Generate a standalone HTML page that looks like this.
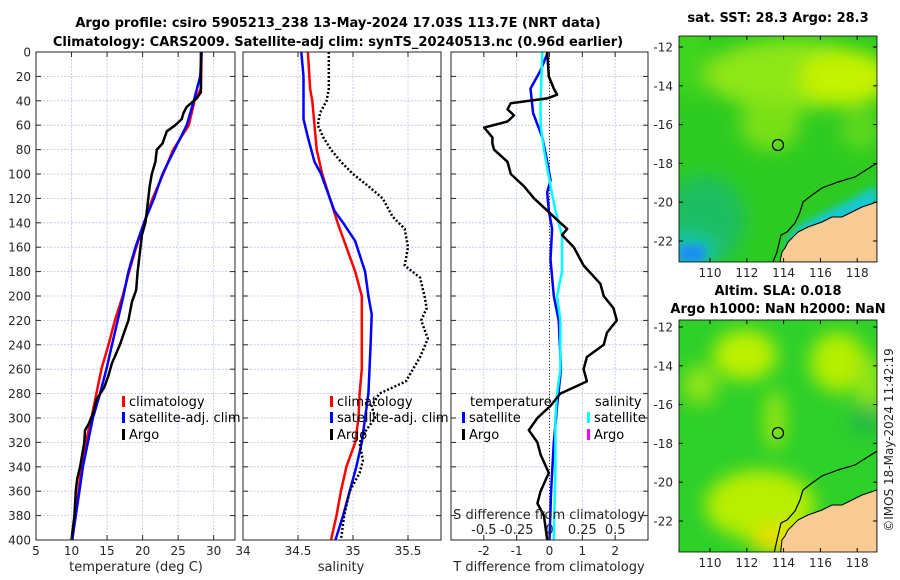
<!DOCTYPE html>
<html><head><meta charset="utf-8">
<style>
body{margin:0;background:#fff;}
svg{display:block;font-family:"DejaVu Sans","Liberation Sans",sans-serif;}
.t{font-size:13px;font-weight:bold;fill:#000;}
.tk{font-size:12px;fill:#262626;}
.lab{font-size:13px;fill:#262626;}
.lg{font-size:13px;fill:#000;}
</style></head>
<body>
<svg id="fig" width="900" height="580" viewBox="0 0 900 580">
<defs>
<filter id="bl" x="-50%" y="-50%" width="200%" height="200%"><feGaussianBlur stdDeviation="9"/></filter>
<filter id="bl2" x="-50%" y="-50%" width="200%" height="200%"><feGaussianBlur stdDeviation="4"/></filter>
<clipPath id="c1"><rect x="679" y="36" width="198" height="226"/></clipPath>
<clipPath id="c2"><rect x="679" y="320" width="198" height="232"/></clipPath>
</defs>
<text class="t" x="338" y="27" text-anchor="middle">Argo profile: csiro 5905213_238 13-May-2024 17.03S 113.7E (NRT data)</text>
<text class="t" x="338" y="46" text-anchor="middle">Climatology: CARS2009. Satellite-adj clim: synTS_20240513.nc (0.96d earlier)</text>

<g id="grids"></g>
<g id="marks"></g>
<g id="axes"></g>

<!-- Top map -->
<g clip-path="url(#c1)">
<rect x="679" y="36" width="198" height="226" fill="#2dcb22"/>
<g filter="url(#bl)">
<ellipse cx="690" cy="60" rx="20" ry="40" fill="#3fd41a"/>
<ellipse cx="790" cy="75" rx="85" ry="35" fill="#8ee614"/>
<ellipse cx="845" cy="78" rx="45" ry="28" fill="#c4f200"/>
<ellipse cx="770" cy="125" rx="30" ry="25" fill="#7ae015"/>
<ellipse cx="860" cy="130" rx="20" ry="20" fill="#5fd81a"/>
<ellipse cx="705" cy="220" rx="40" ry="45" fill="#1bbd62"/>
<ellipse cx="690" cy="252" rx="25" ry="18" fill="#12c6b0"/>
</g>
<rect x="679" y="245" width="26" height="17" fill="#1a8ff0" filter="url(#bl2)"/>
<path d="M877,185 L850,200 L825,212 L800,225 L790,235 L785,250 L790,262 L877,262 Z" fill="#18c8d0" filter="url(#bl2)"/>
<g id="coast1">
<path d="M877,202 L868,205 L862,207 L852,212 L842,217 L832,217 L822,222 L808,227 L798,232 L788,242 L785,248 L782,252 L780,262 L877,262 Z" fill="#f9cb94" stroke="#000" stroke-width="1"/>
<path d="M877,163 L855,177 L838,182 L822,188 L812,195 L803,202 L800,212 L795,223 L787,232 L781,235 L777,252 L773,262" fill="none" stroke="#000" stroke-width="1.2"/>
</g>
<circle cx="778" cy="145" r="5.5" fill="none" stroke="#000" stroke-width="1.2"/>
</g>
<rect x="679" y="36" width="198" height="226" fill="none" stroke="#000" stroke-width="0.8"/>
<text class="t" x="778" y="22" text-anchor="middle">sat. SST: 28.3 Argo: 28.3</text>

<!-- Bottom map -->
<g clip-path="url(#c2)">
<rect x="679" y="320" width="198" height="232" fill="#2ed02a"/>
<g filter="url(#bl)">
<ellipse cx="745" cy="355" rx="32" ry="25" fill="#bdf000"/>
<ellipse cx="700" cy="385" rx="18" ry="20" fill="#8ee416"/>
<ellipse cx="838" cy="362" rx="28" ry="30" fill="#b6ee06"/>
<ellipse cx="775" cy="420" rx="10" ry="30" fill="#a0e80c"/>
<ellipse cx="870" cy="385" rx="15" ry="30" fill="#8ee414"/>
<ellipse cx="760" cy="505" rx="55" ry="35" fill="#b8ee06"/>
<ellipse cx="780" cy="540" rx="30" ry="15" fill="#e8e000"/>
<ellipse cx="865" cy="420" rx="15" ry="15" fill="#22b84a"/>
</g>
<g transform="translate(0,288)">
<path d="M877,202 L868,205 L862,207 L852,212 L842,217 L832,217 L822,222 L808,227 L798,232 L788,242 L785,248 L782,252 L780,270 L877,270 Z" fill="#f9cb94" stroke="#000" stroke-width="1"/>
<path d="M877,163 L855,177 L838,182 L822,188 L812,195 L803,202 L800,212 L795,223 L787,232 L781,235 L777,252 L773,270" fill="none" stroke="#000" stroke-width="1.2"/>
</g>
<circle cx="778" cy="433" r="5.5" fill="none" stroke="#000" stroke-width="1.2"/>
</g>
<rect x="679" y="320" width="198" height="232" fill="none" stroke="#000" stroke-width="0.8"/>
<text class="t" x="778" y="295" text-anchor="middle">Altim. SLA: 0.018</text>
<text class="t" x="778" y="313" text-anchor="middle">Argo h1000: NaN h2000: NaN</text>
<g id="mapaxes"></g>
<text class="tk" transform="translate(893,440) rotate(-90)" text-anchor="middle">©IMOS 18-May-2024 11:42:19</text>
</svg>
<script>
// ---- data ----
const depthTicks=[0,20,40,60,80,100,120,140,160,180,200,220,240,260,280,300,320,340,360,380,400];
const tempTicks=[5,10,15,20,25,30];
const salTicks=[34,34.5,35,35.5];
const salTickLabels=["34","34.5","35","35.5"];
const tdiffTicks=[-2,-1,0,1,2];
const sdiffTicks=[-0.5,-0.25,0,0.25,0.5];
const sdiffLabels=["-0.5","-0.25","0","0.25","0.5"];
const lonTicks=[110,112,114,116,118];
const latTicks=[-12,-14,-16,-18,-20,-22];

const argoDepth=[0,33,38,45,50,55,60,65,75,80,90,100,110,130,140,150,160,180,195,205,220,230,240,255,265,275,285,295,305,310,320,340,350,360,380,400];
const argoTemp=[28.2,28.2,27.6,26.2,25.75,25.5,24.6,23.4,22.8,22,21.8,21.3,21,20.6,20.4,19.9,19.7,19.3,19.1,18.5,18,17.4,16.8,15.7,15.2,14.6,13.5,13.1,12.4,11.9,11.8,11.2,10.8,10.6,10.4,10];
const climDepth=[0,30,40,60,80,100,120,140,160,180,200,220,240,260,280,300,320,340,360,380,400];
const climTemp=[28.3,28.2,27.3,26.5,24.3,22.9,21.4,20.2,19.1,18.1,17.2,16.1,15.2,14.2,13.5,12.8,12,11.4,11,10.5,10];
const satDepth=[0,20,40,60,80,100,120,140,160,180,200,220,240,260,280,300,320,340,360,380,400];
const satTemp=[28.3,28.1,27.2,26.2,24.5,22.8,21.6,20.2,19.0,18.0,17.3,16.5,15.7,14.9,14.0,13.0,12.3,11.6,11.1,10.6,10.1];

const climSalDepth=[0,30,40,50,80,100,120,140,160,180,200,220,260,280,300,320,340,360,380,400];
const climSal=[34.59,34.61,34.63,34.64,34.67,34.72,34.79,34.86,34.94,35.02,35.08,35.08,35.08,35.06,35.05,35.02,34.94,34.89,34.85,34.80];
const satSalDepth=[0,20,40,55,70,80,90,100,120,130,140,155,180,200,215,240,260,280,300,320,340,360,380,400];
const satSal=[34.53,34.55,34.55,34.55,34.59,34.62,34.65,34.71,34.79,34.83,34.91,35.02,35.11,35.14,35.17,35.16,35.15,35.14,35.11,35.08,35.03,34.97,34.91,34.84];
const argoSalDepth=[0,30,40,50,60,70,80,90,100,110,120,135,145,160,175,185,200,210,220,235,250,270,280,290,300,310,320,335,345,360,380,400];
const argoSal=[34.78,34.78,34.76,34.70,34.68,34.73,34.80,34.89,35.0,35.14,35.27,35.36,35.47,35.5,35.47,35.61,35.65,35.67,35.62,35.68,35.61,35.48,35.24,35.17,35.2,35.12,35.06,35.09,35.06,34.97,34.92,34.89];

const argoTdDepth=[0,20,30,35,38,42,47,52,57,62,70,75,80,90,100,110,120,130,140,145,150,160,175,190,200,210,220,230,240,250,260,270,280,290,300,310,320,330,345,360,370,380,400];
const argoTd=[-0.07,-0.02,0.13,0.23,-0.07,-1.18,-1.28,-1.08,-1.28,-1.99,-1.74,-1.74,-1.69,-1.28,-1.18,-0.78,-0.47,-0.07,0.33,0.54,0.38,0.74,1.04,1.55,1.65,1.95,2.05,1.75,1.65,1.14,1.04,1.14,0.33,0.03,-0.37,-0.63,-0.37,-0.27,-0.02,-0.27,-0.37,-0.17,-0.07];
const satTdDepth=[0,15,30,50,70,90,105,115,130,145,170,200,220,260,290,320,360,400];
const satTd=[-0.05,-0.27,-0.58,-0.5,-0.22,-0.07,0.03,-0.07,-0.02,0.08,0.03,0.13,0.28,0.35,0.23,0.13,0.05,0];
const satSdDepth=[0,40,60,80,110,130,150,180,200,220,260,280,300,340,400];
const satSd=[-0.055,-0.068,-0.068,-0.043,0.008,0.045,0.095,0.095,0.058,0.083,0.083,0.058,0.045,0.045,0.033];

// ---- axes ----
const NS='http://www.w3.org/2000/svg';
const Y0=52,Y1=540;
const yD=d=>Y0+(d/400)*(Y1-Y0);
const P1={x0:36,x1:235,lo:5,hi:33};
const P2={x0:243,x1:441,lo:34,hi:35.8};
const P3={x0:451,x1:648,lo:-3,hi:3};
const sx=(p,v)=>p.x0+(v-p.lo)/(p.hi-p.lo)*(p.x1-p.x0);
const sxS=v=>sx(P3,v*4);
function mk(tag,attrs,parent,txt){const e=document.createElementNS(NS,tag);for(const k in attrs)e.setAttribute(k,attrs[k]);if(txt!==undefined)e.textContent=txt;document.getElementById(parent).appendChild(e);return e;}
const grids='grids',axes='axes',marks='marks';
const gridStyle={stroke:'#b8c4e0','stroke-width':0.8,'stroke-dasharray':'2,1.5'};

[P1,P2,P3].forEach((p,i)=>{
  depthTicks.forEach(d=>{
    if(d>0&&d<400){const g=mk('line',Object.assign({x1:p.x0,x2:p.x1,y1:yD(d),y2:yD(d)},gridStyle),grids);
    
    }
    mk('line',{x1:p.x0,x2:p.x0+5,y1:yD(d),y2:yD(d),stroke:'#262626'},axes);
    mk('line',{x1:p.x1-5,x2:p.x1,y1:yD(d),y2:yD(d),stroke:'#262626'},axes);
  });
  const r=mk('rect',{x:p.x0,y:Y0,width:p.x1-p.x0,height:Y1-Y0,fill:'none',stroke:'#262626','stroke-width':1},axes);
  
  
});
depthTicks.forEach(d=>{
  const t=mk('text',{x:31,y:yD(d)+4.5,'text-anchor':'end',class:'tk'},axes,String(d));
  
  
});
function xTicks(p,ticks,labels,f){
  ticks.forEach((v,i)=>{
    const x=f(v);
    if(x>p.x0+1&&x<p.x1-1){const g=mk('line',Object.assign({x1:x,x2:x,y1:Y0,y2:Y1},gridStyle),grids);
    
    }
    mk('line',{x1:x,x2:x,y1:Y1,y2:Y1-5,stroke:'#262626'},axes);
    mk('line',{x1:x,x2:x,y1:Y0,y2:Y0+5,stroke:'#262626'},axes);
    const t=mk('text',{x:x,y:555,'text-anchor':'middle',class:'tk'},axes,labels[i]);
    
    
  });
}
xTicks(P1,tempTicks,tempTicks.map(String),v=>sx(P1,v));
xTicks(P2,salTicks,salTickLabels,v=>sx(P2,v));
xTicks(P3,tdiffTicks,tdiffTicks.map(String),v=>sx(P3,v));
let e;
e=mk('text',{x:136,y:571,'text-anchor':'middle',class:'lab'},axes,'temperature (deg C)');


e=mk('text',{x:341,y:571,'text-anchor':'middle',class:'lab'},axes,'salinity');


e=mk('text',{x:549,y:571,'text-anchor':'middle',class:'lab'},axes,'T difference from climatology');


e=mk('text',{x:549,y:519,'text-anchor':'middle',class:'lab'},axes,'S difference from climatology');


sdiffTicks.forEach((v,i)=>{
  const t=mk('text',{x:sxS(v),y:534,'text-anchor':'middle',class:'lab'},axes,sdiffLabels[i]);
  
  
});
e=mk('line',{x1:sx(P3,0),x2:sx(P3,0),y1:Y0,y2:Y1,stroke:'#333','stroke-width':1,'stroke-dasharray':'1,2'},grids);



// ---- series ----
function line(xs,ds,fx,color,w,name,dash){
  const pts=xs.map((v,i)=>fx(v).toFixed(1)+','+yD(ds[i]).toFixed(1)).join(' ');
  const a={points:pts,fill:'none',stroke:color,'stroke-width':w,'stroke-linejoin':'round'};
  if(dash)a['stroke-dasharray']=dash;
  const p=mk('polyline',a,marks);
  
  
}
line(climTemp,climDepth,v=>sx(P1,v),'#ff0000',2.5,'climatology-temperature-line');
line(satTemp,satDepth,v=>sx(P1,v),'#0000ff',2.5,'satellite-adj-temperature-line');
line(argoTemp,argoDepth,v=>sx(P1,v),'#000000',2.5,'argo-temperature-line');
line(climSal,climSalDepth,v=>sx(P2,v),'#ff0000',2.5,'climatology-salinity-line');
line(satSal,satSalDepth,v=>sx(P2,v),'#0000ff',2.5,'satellite-adj-salinity-line');
line(argoSal,argoSalDepth,v=>sx(P2,v),'#000000',2.5,'argo-salinity-line','2,2');
line(satTd,satTdDepth,v=>sx(P3,v),'#0000ff',2.5,'satellite-t-difference-line');
line(satSd,satSdDepth,v=>sxS(v),'#00ffff',2.5,'satellite-s-difference-line');
line(argoTd,argoTdDepth,v=>sx(P3,v),'#000000',2.5,'argo-t-difference-line');

// ---- legends ----
function leg(x,y,color,label,name){
  const b=mk('rect',{x:x,y:y-10,width:3,height:11,fill:color},axes);
  
  
  const t=mk('text',{x:x+7,y:y,class:'lg'},axes,label);
  
  
}
leg(122,406,'#ff0000','climatology','legend-climatology');
leg(122,422,'#0000ff','satellite-adj. clim','legend-satellite-adj');
leg(122,439,'#000000','Argo','legend-argo');
leg(330,406,'#ff0000','climatology','legend2-climatology');
leg(330,422,'#0000ff','satellite-adj. clim','legend2-satellite-adj');
leg(330,439,'#000000','Argo','legend2-argo');
e=mk('text',{x:470,y:406,class:'lg'},axes,'temperature');


e=mk('text',{x:595,y:406,class:'lg'},axes,'salinity');


leg(462,422,'#0000ff','satellite','legend-t-satellite');
leg(462,439,'#000000','Argo','legend-t-argo');
leg(587,422,'#00ffff','satellite','legend-s-satellite');
leg(587,439,'#ff00ff','Argo','legend-s-argo');

// ---- map axes ----
const lonX=v=>710+(v-110)*18.4;
function mapAxes(top,bottom,lat12){
  lonTicks.forEach(v=>{
    mk('line',{x1:lonX(v),x2:lonX(v),y1:bottom,y2:bottom-4,stroke:'#000'},'mapaxes');
    mk('line',{x1:lonX(v),x2:lonX(v),y1:top,y2:top+4,stroke:'#000'},'mapaxes');
    const t=mk('text',{x:lonX(v),y:bottom+15,'text-anchor':'middle',class:'tk'},'mapaxes',String(v));
    
    
  });
  latTicks.forEach(v=>{
    const y=lat12+(-12-v)*19.4;
    mk('line',{x1:679,x2:683,y1:y,y2:y,stroke:'#000'},'mapaxes');
    mk('line',{x1:873,x2:877,y1:y,y2:y,stroke:'#000'},'mapaxes');
    const t=mk('text',{x:673,y:y+4.5,'text-anchor':'end',class:'tk'},'mapaxes',String(v));
    
    
  });
}
mapAxes(36,262,47);
mapAxes(320,552,327);
</script>
</body></html>
